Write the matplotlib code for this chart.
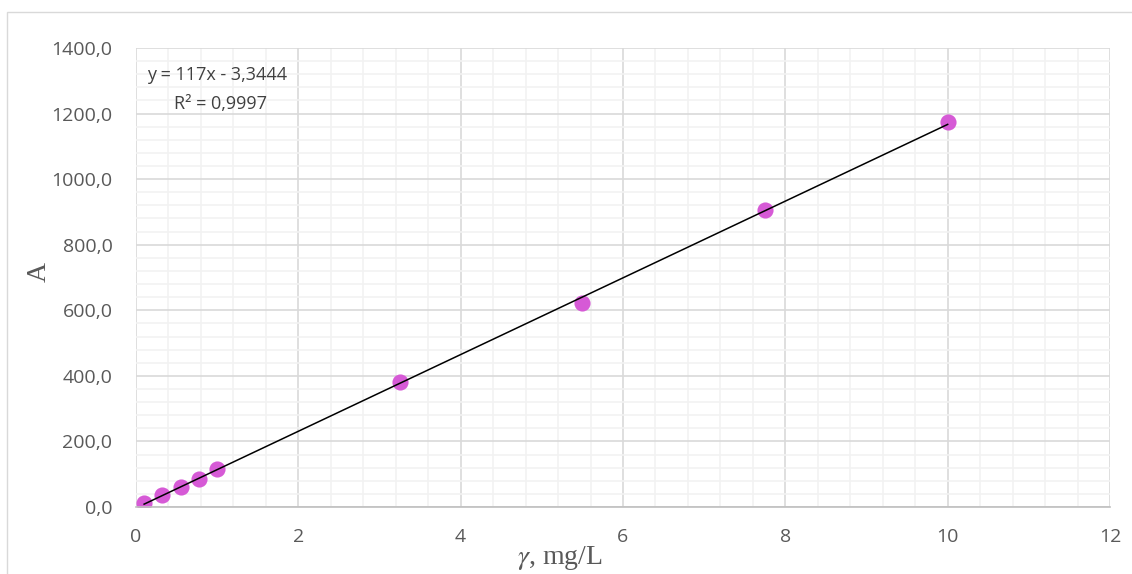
import numpy as np
import matplotlib
matplotlib.use("Agg")
import matplotlib.pyplot as plt
from matplotlib.ticker import MultipleLocator, FuncFormatter
from matplotlib.patches import Rectangle

plt.rcParams["mathtext.fontset"] = "stix"

# concentration (mg/L) and response A
conc = [0.1, 0.325, 0.55, 0.775, 1.0, 3.25, 5.5, 7.75, 10.0]
resp = [12, 37, 62, 85, 116, 380, 623, 907, 1173]
eq_text = "y = 117x - 3,3444"
r2_text = "R² = 0,9997"
xticks = [0, 2, 4, 6, 8, 10, 12]
yticks = [0, 200, 400, 600, 800, 1000, 1200, 1400]

fig = plt.figure(figsize=(11.32, 5.74), dpi=100)
fig.patches.append(Rectangle((7/1132, -0.1), 1.2, 1 - 12/574 + 0.1, transform=fig.transFigure,
                             fill=False, edgecolor="#D9D9D9", linewidth=1))
ax = fig.add_axes([136/1132, 1 - 507/574, (1110 - 136)/1132, (507 - 48)/574])

ax.set_xlim(0, 12)
ax.set_ylim(0, 1400)
ax.set_xticks(xticks)
ax.set_yticks(yticks)
ax.xaxis.set_minor_locator(MultipleLocator(0.4))
ax.yaxis.set_minor_locator(MultipleLocator(40))
ax.grid(which="major", color="#D9D9D9", linewidth=1.2)
ax.grid(which="minor", color="#F2F2F2", linewidth=1.2)
ax.set_axisbelow(True)
for s in ["top", "right", "left"]:
    ax.spines[s].set_visible(False)
ax.spines["bottom"].set_color("#BFBFBF")
ax.spines["bottom"].set_linewidth(1.2)
ax.tick_params(which="both", length=0, labelsize=14, labelcolor="#595959")
ax.tick_params(axis="y", pad=17)
ax.tick_params(axis="x", pad=15)
ax.yaxis.set_major_formatter(FuncFormatter(lambda v, p: f"{v:.1f}".replace(".", ",")))
for lab in ax.get_xticklabels() + ax.get_yticklabels():
    lab.set_family("Open Sans")

# linear trendline
k, b = np.polyfit(conc, resp, 1)
xl = np.array([conc[0], conc[-1]])
ax.plot(xl, k * xl + b, color="black", linewidth=1.1, zorder=3)
ax.scatter(conc, resp, s=135, color="#D65AD6", zorder=2, linewidths=0)

ax.text(0.14, 1318, eq_text, fontsize=13, color="#404040", family="Open Sans", va="center")
ax.text(0.47, 1228, r2_text, fontsize=13, color="#404040", family="Open Sans", va="center")

fig.text(560/1132, 1 - 558/574, r"$\gamma$, mg/L", fontsize=20, color="#595959",
         family="Liberation Serif", ha="center", va="center")
fig.text(39/1132, 1 - 272/574, "A", fontsize=20, color="#595959", rotation=90,
         family="Liberation Serif", ha="center", va="center")

fig.savefig("out.png", dpi=100)
